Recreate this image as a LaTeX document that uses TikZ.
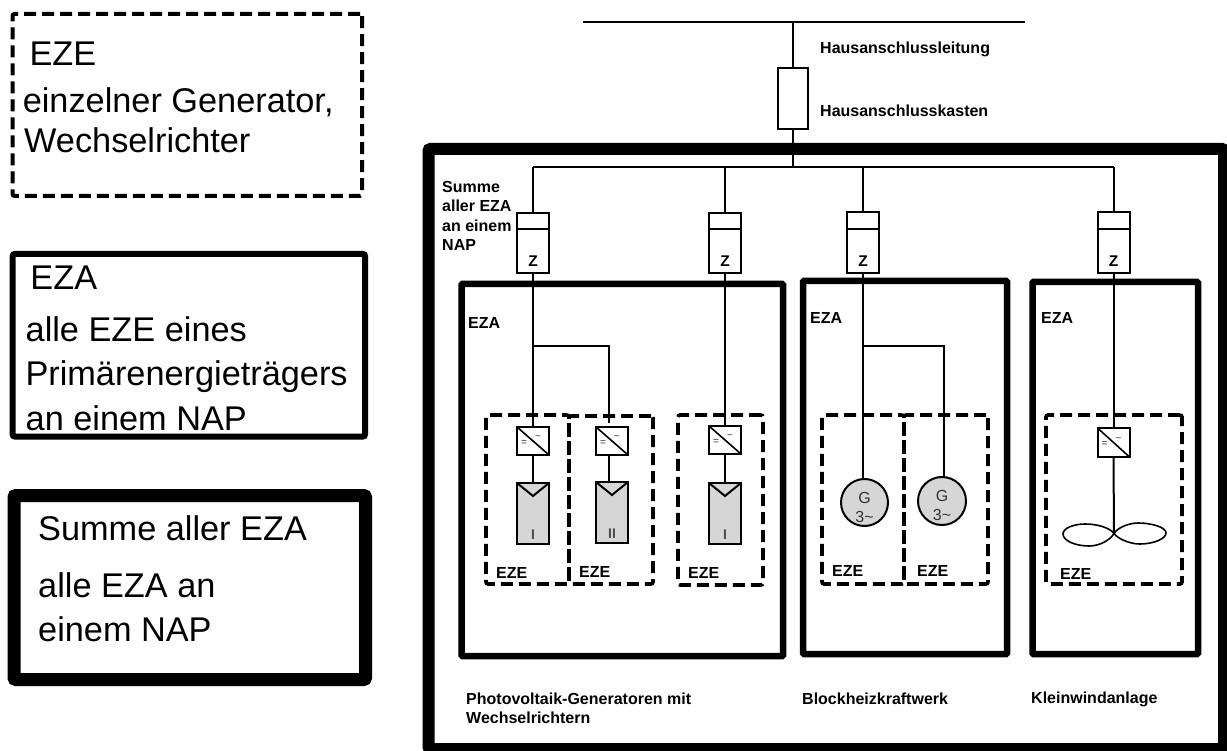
\documentclass[tikz,border=0pt]{standalone}
\usepackage{fontspec}
\setmainfont{Liberation Sans}
\usetikzlibrary{calc}
\newcommand{\pxbox}[6]{%
  \pgfmathsetmacro{\pxcx}{(#3+#5)/2}\pgfmathsetmacro{\pxcy}{(#4+#6)/2}%
  \pgfmathsetmacro{\pxw}{#5-#3}\pgfmathsetmacro{\pxh}{#6-#4}%
  \node[#1,minimum width=\pxw pt,minimum height=\pxh pt] (#2) at (\pxcx,\pxcy) {};}
\newcommand{\biglabel}[3]{\node[bigtext] at (#1,#2) {#3};}
\newcommand{\smalllabel}[3]{\node[smalltext] at (#1,#2) {#3};}
\tikzset{
  anybox/.style={inner sep=0pt,outer sep=0pt,draw=black},
  legenddash/.style={anybox,line width=4pt,dash pattern=on 12pt off 6pt,rounded corners=2pt},
  legendeza/.style={anybox,line width=6pt,rounded corners=2pt},
  legendsum/.style={anybox,line width=13pt,rounded corners=2pt},
  outerbox/.style={anybox,line width=12pt,rounded corners=2pt},
  ezabox/.style={anybox,line width=6.5pt,rounded corners=1pt},
  ezebox/.style={anybox,line width=3.6pt,dash pattern=on 12pt off 6pt,rounded corners=2pt},
  thinbox/.style={anybox,fill=white,line width=2pt},
  panelbox/.style={anybox,fill=black!16,line width=2pt},
  genbox/.style={circle,anybox,fill=black!16,line width=2pt},
  wire/.style={line width=2pt},
  bigtext/.style={anchor=base west,inner sep=0pt,font=\fontsize{34.3}{36}\selectfont},
  smalltext/.style={anchor=base west,inner sep=0pt,font=\fontsize{16}{18}\selectfont\bfseries},
  tinymark/.style={inner sep=0pt,font=\fontsize{10}{10}\selectfont,text=black!80},
  unitlabel/.style={inner sep=0pt,font=\fontsize{15.5}{16}\selectfont\bfseries},
  panellabel/.style={inner sep=0pt,font=\fontsize{14}{14}\selectfont\bfseries,text=black!70},
  genlabel/.style={inner sep=0pt,font=\fontsize{16}{16}\selectfont,text=black!80},
}
\begin{document}
\begin{tikzpicture}[x=1pt,y=-1pt]
\useasboundingbox (0,0) rectangle (1227,751);
% legend
\pxbox{legenddash}{legA}{12.5}{14}{362}{196}
\pxbox{legendeza}{legB}{12.7}{254}{365}{436.5}
\pxbox{legendsum}{legC}{14}{495.5}{365.5}{679.5}
\biglabel{29.3}{66}{EZE}
\biglabel{22.6}{113}{einzelner Generator,}
\biglabel{24}{153}{Wechselrichter}
\biglabel{30.3}{290}{EZA}
\biglabel{25.5}{342}{alle EZE eines}
\biglabel{25.3}{385}{Primärenergieträgers}
\biglabel{25.5}{430}{an einem NAP}
\biglabel{38}{540}{Summe aller EZA}
\biglabel{38}{597}{alle EZA an}
\biglabel{38}{641}{einem NAP}
% frames
\pxbox{outerbox}{outer}{428.5}{149}{1224}{749}
\pxbox{ezabox}{ezaA}{461.5}{284}{783}{656}
\pxbox{ezabox}{ezaB}{803}{281}{1007}{654}
\pxbox{ezabox}{ezaC}{1032.5}{282}{1198}{654}
% supply
\coordinate (busL) at (583,22);
\coordinate (busR) at (1025,22);
\coordinate (busTap) at (793,22);
\draw[wire] (busL) -- (busR);
\pxbox{thinbox}{fuse}{778}{68}{808}{129}
\coordinate (bbTap) at (793,167);
\coordinate (bbL) at (533,167);
\coordinate (bbB) at (725,167);
\coordinate (bbC) at (863,167);
\coordinate (bbR) at (1113.5,167);
\draw[wire] (busTap) -- (fuse.north);
\draw[wire] (fuse.south) -- (bbTap);
\draw[wire] (bbL) -- (bbR);
% meters
\pxbox{thinbox}{mA}{517}{213}{549}{273}
\pxbox{thinbox}{mB}{709}{213}{741}{273}
\pxbox{thinbox}{mC}{847}{212}{879}{273}
\pxbox{thinbox}{mD}{1097.5}{212}{1129.5}{273}
\foreach \m/\t in {mA/bbL,mB/bbB,mC/bbC,mD/bbR}{
  \draw[wire] (\t) -- (\m.north);
  \draw[wire] (\m.north west |- 0,229) -- (\m.north east |- 0,229);
  \node[unitlabel,anchor=base] at ([yshift=6pt]\m.south) {Z};
}
% dashed EZE
\pxbox{ezebox,dash phase=7pt}{ezeA}{486}{415}{569}{584}
\pxbox{ezebox}{ezeB}{569}{416}{653}{584}
\pxbox{ezebox}{ezeC}{678}{415}{763}{585}
\pxbox{ezebox,dash phase=8pt}{ezeD}{822}{415}{904}{584}
\pxbox{ezebox}{ezeE}{904}{415}{988}{584}
\pxbox{ezebox}{ezeF}{1046}{415}{1182}{584}
% inverters
\pxbox{thinbox}{invA}{517}{427}{549}{455}
\pxbox{thinbox}{invB}{596}{427}{628}{455}
\pxbox{thinbox}{invC}{709}{426}{741}{454}
\pxbox{thinbox}{invD}{1097.5}{428}{1129.5}{457}
% panels
\pxbox{panelbox}{panA}{517}{483}{549}{544}
\pxbox{panelbox}{panB}{596}{482}{628}{543}
\pxbox{panelbox}{panC}{709}{483}{741}{544}
\foreach \p/\l in {panA/I,panB/II,panC/I}{
  \draw[wire] (\p.north west) -- ([yshift=-13pt]\p.north) -- (\p.north east);
  \node[panellabel] at ([yshift=9.5pt]\p.south) {\l};
}
% inverter marks
\foreach \i in {invA,invB,invC,invD}{
  \draw[line width=1.6pt] (\i.north west) -- (\i.south east);
  \node[tinymark] at ([xshift=-9pt,yshift=-2pt]\i.center) {=};
  \node[tinymark] at ([xshift=5pt,yshift=3pt]\i.center) {\textasciitilde};
}
% generators
\node[genbox,minimum size=47pt] (genA) at (864.5,502.5) {};
\node[genbox,minimum size=48pt] (genB) at (942,501) {};
\foreach \g in {genA,genB}{
  \node[genlabel] at ([yshift=5pt]\g.center) {G};
  \node[genlabel] at ([yshift=-14pt]\g.center) {3\textasciitilde};
}
% blades
\coordinate (hub) at (1114,533.5);
\draw[line width=1.6pt] (hub) .. controls (1110,528) and (1098,524) .. (1085,524)
  .. controls (1074,524) and (1063,528) .. (1063,534)
  .. controls (1063,541) and (1076,546) .. (1089,546)
  .. controls (1100,546) and (1110,540) .. (hub);
\draw[line width=1.6pt] (hub) .. controls (1118,527) and (1130,523) .. (1138,523)
  .. controls (1151,523) and (1166,527) .. (1166,533)
  .. controls (1166,539) and (1153,544) .. (1140,544)
  .. controls (1130,544) and (1118,539) .. (hub);
% wiring
\coordinate (brA) at (533,346);
\coordinate (brA2) at (609,346);
\coordinate (brB) at (609,423);
\coordinate (brC) at (863,346);
\coordinate (brC2) at (944,346);
\draw[wire] (mA.south) -- (invA.north);
\draw[wire] (invA.south) -- (panA.north);
\draw[wire] (brA) -- (brA2) -- (brB);
\draw[wire] (brB |- invB.south) -- (brB |- panB.north);
\draw[wire] (mB.south) -- (invC.north);
\draw[wire] (invC.south) -- (panC.north);
\draw[wire] (mC.south) -- (mC.south |- genA.north);
\draw[wire] (brC) -- (brC2) -- (brC2 |- genB.north);
\draw[wire] (mD.south) -- (invD.north);
\draw[wire] (invD.south) -- (hub);
% small labels
\smalllabel{820}{54}{Hausanschlussleitung}
\smalllabel{820}{117}{Hausanschlusskasten}
\smalllabel{442}{193}{Summe}
\smalllabel{442}{212}{aller EZA}
\smalllabel{442}{232}{an einem}
\smalllabel{442}{251}{NAP}
\smalllabel{468}{329}{EZA}
\smalllabel{810}{324}{EZA}
\smalllabel{1041}{324}{EZA}
\smalllabel{496}{578}{EZE}
\smalllabel{579}{577}{EZE}
\smalllabel{688}{578}{EZE}
\smalllabel{832}{576}{EZE}
\smalllabel{917}{576}{EZE}
\smalllabel{1060}{579}{EZE}
\smalllabel{466}{704}{Photovoltaik-Generatoren mit}
\smalllabel{466}{723}{Wechselrichtern}
\smalllabel{802}{704}{Blockheizkraftwerk}
\smalllabel{1031}{703}{Kleinwindanlage}
\end{tikzpicture}
\end{document}
